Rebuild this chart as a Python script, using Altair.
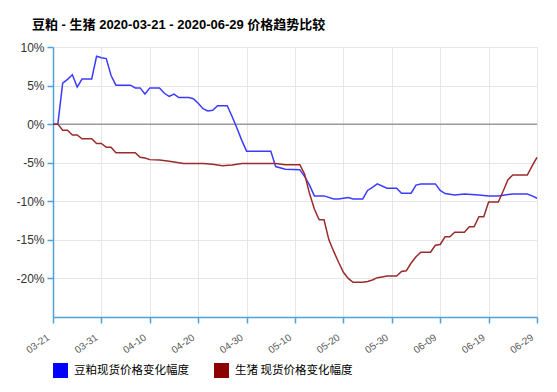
import altair as alt
import pandas as pd

START = "2020-03-21"
series_names = ["豆粕现货价格变化幅度", "生猪 现货价格变化幅度"]
check_keys = ["c1", "c2"]
colors = ["#3b3bff", "#9b2a2a"]
legend_colors = ["#0000ff", "#8b0000"]

# 豆粕 (days since 2020-03-21, % change)
soy_days = [0, 1, 2, 3, 4, 5, 6, 8, 9, 10, 11, 12, 13, 16, 17, 18, 19, 20, 22, 23, 24, 25, 26, 28, 29, 30, 31, 32, 33, 34, 36, 37, 38, 39, 40, 45, 46, 48, 51, 52, 53, 54, 56, 58, 59, 61, 62, 64, 65, 66, 67, 69, 71, 72, 74, 75, 76, 79, 80, 81, 83, 85, 88, 90, 92, 95, 98, 99, 100]
soy_vals = [0, 0, 5.3, 5.8, 6.4, 4.8, 5.85, 5.85, 8.8, 8.6, 8.5, 6.3, 5.05, 5.05, 4.7, 4.7, 3.9, 4.7, 4.7, 4.0, 3.6, 3.9, 3.45, 3.45, 3.3, 2.7, 2.0, 1.7, 1.8, 2.4, 2.4, 1.0, -0.5, -2.1, -3.5, -3.5, -5.5, -5.85, -5.9, -6.8, -7.9, -9.3, -9.3, -9.7, -9.7, -9.5, -9.7, -9.7, -8.6, -8.2, -7.75, -8.3, -8.3, -8.95, -8.95, -7.9, -7.75, -7.75, -8.6, -9.0, -9.2, -9.05, -9.2, -9.3, -9.3, -9.05, -9.05, -9.3, -9.6]

# 生猪 (days since 2020-03-21, % change)
hog_days = [0, 1, 2, 3, 4, 5, 6, 8, 9, 10, 11, 12, 13, 17, 18, 19, 20, 22, 24, 26, 27, 31, 33, 35, 37, 39, 46, 48, 51, 52, 53, 54, 55, 56, 57, 58, 59, 60, 61, 62, 64, 65, 66, 67, 68, 69, 71, 72, 73, 74, 75, 76, 78, 79, 80, 81, 82, 83, 85, 86, 87, 88, 89, 90, 92, 93, 94, 95, 98, 99, 100]
hog_vals = [0, 0, -0.8, -0.8, -1.4, -1.4, -1.9, -1.9, -2.5, -2.5, -3.0, -3.0, -3.7, -3.7, -4.3, -4.4, -4.6, -4.65, -4.8, -5.0, -5.1, -5.1, -5.2, -5.4, -5.3, -5.1, -5.1, -5.25, -5.25, -6.5, -9.0, -11.0, -12.4, -12.4, -15.0, -16.5, -17.9, -19.2, -20.0, -20.5, -20.5, -20.4, -20.2, -19.9, -19.8, -19.7, -19.7, -19.1, -19.0, -18.0, -17.2, -16.6, -16.6, -15.7, -15.6, -14.6, -14.6, -14.0, -14.0, -13.3, -13.3, -12.0, -12.0, -10.1, -10.1, -8.7, -7.2, -6.6, -6.6, -5.4, -4.3]

tick_days = [0, 10, 20, 30, 40, 50, 60, 70, 80, 90, 100]
y_ticks = [10, 5, 0, -5, -10, -15, -20]

start = pd.Timestamp(START)
df_soy = pd.DataFrame({"date": [(start + pd.Timedelta(days=d)).strftime("%Y-%m-%d") for d in soy_days],
                       "value": soy_vals, "series": series_names[0], "check": check_keys[0]})
df_hog = pd.DataFrame({"date": [(start + pd.Timedelta(days=d)).strftime("%Y-%m-%d") for d in hog_days],
                       "value": hog_vals, "series": series_names[1], "check": check_keys[1]})
df = pd.concat([df_soy, df_hog])

tick_dates = [start + pd.Timedelta(days=d) for d in tick_days]
tick_vals = [alt.DateTime(year=t.year, month=t.month, date=t.day, utc=True) for t in tick_dates]

axis_blue = "#4da3dc"

x_scale = alt.Scale(type="utc", domain=[tick_vals[0], tick_vals[-1]], nice=False)
y_scale = alt.Scale(domain=[-25, 10], nice=False, zero=False)

x = alt.X("date:T", scale=x_scale,
          axis=alt.Axis(values=tick_vals, labelExpr="utcFormat(datum.value, '%m-%d')",
                        title=None, labelAngle=-35, labelAlign="right",
                        labelBaseline="middle", labelFontSize=10,
                        labelColor="#555555", labelFont="Liberation Sans",
                        domainColor=axis_blue, domainWidth=1.5,
                        tickColor=axis_blue, tickSize=6, tickWidth=1.5,
                        labelPadding=13, labelOffset=-5,
                        gridColor="#e6e6e6", grid=True, labelOverlap=False))
y = alt.Y("value:Q", scale=y_scale,
          axis=alt.Axis(values=y_ticks, labelExpr="datum.value + '%'", title=None,
                        labelFontSize=12, labelColor="#333333", labelFont="Liberation Sans",
                        domainColor=axis_blue, domainWidth=1.5,
                        tickColor=axis_blue, tickSize=6, tickWidth=1.5,
                        labelPadding=3, gridColor="#e6e6e6"))

line_soy = alt.Chart(df_soy).mark_line(strokeWidth=1.5, color=colors[0]).encode(x=x, y=y)
line_hog = alt.Chart(df_hog).mark_line(strokeWidth=1.5, color=colors[1]).encode(
    x=alt.X("date:T", scale=x_scale), y=alt.Y("value:Q", scale=y_scale))

legend_layer = alt.Chart(df).mark_point(
    filled=True, opacity=0.01, size=1
).encode(
    x=alt.X("date:T", scale=x_scale),
    y=alt.Y("value:Q", scale=y_scale),
    fill=alt.Fill("series:N",
                  scale=alt.Scale(domain=series_names, range=legend_colors),
                  legend=alt.Legend(
                      title=None, orient="none", direction="horizontal",
                      legendX=0, legendY=316, zindex=0,
                      symbolType="square", symbolSize=225,
                      symbolStrokeWidth=0, symbolOpacity=1,
                      labelFontSize=11.5, labelColor="#000000",
                      labelFont="Noto Sans CJK SC",
                      labelOffset=6, columnPadding=25)),
    stroke=alt.Stroke("check:N",
                      scale=alt.Scale(domain=check_keys, range=["#ffffff", "#ffffff"]),
                      legend=alt.Legend(
                          title=None, orient="none", direction="horizontal",
                          legendX=3, legendY=317, zindex=2,
                          symbolType="square", symbolSize=0,
                          symbolStrokeWidth=0, symbolOpacity=0,
                          labelExpr="'✓'", labelFont="DejaVu Sans",
                          labelFontSize=13, labelFontWeight="bold",
                          labelColor="#ffffff",
                          labelOffset=0, columnPadding=150)),
)

zero = alt.Chart(pd.DataFrame({"z": [0]})).mark_rule(color="#9a9a9a", strokeWidth=1.5).encode(
    y=alt.Y("z:Q", scale=y_scale)
)

chart = alt.layer(zero, line_soy, line_hog, legend_layer).properties(
    width=484, height=270,
    padding={"left": 45, "top": 39, "right": 12, "bottom": 67},
    autosize=alt.AutoSizeParams(type="none"),
    title=alt.TitleParams("豆粕 - 生猪 2020-03-21 - 2020-06-29 价格趋势比较",
                          anchor="start", frame="group", dx=-21, offset=9,
                          fontSize=13, fontWeight="bold", color="#000000",
                          font="Liberation Sans, Noto Sans CJK SC"),
).configure_view(stroke=None)

chart.save("out.html", embed_options={"renderer": "svg", "actions": False})
